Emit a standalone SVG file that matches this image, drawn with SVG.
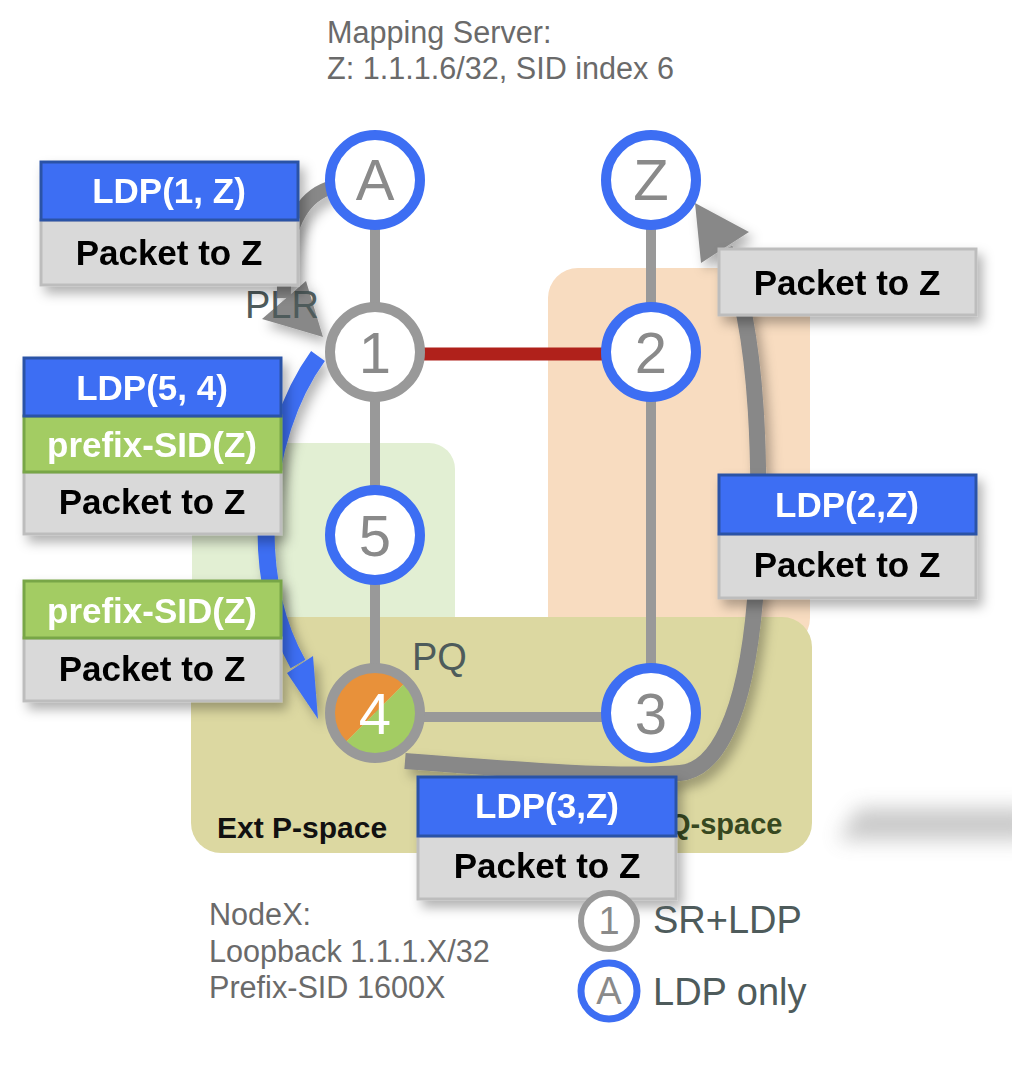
<svg xmlns="http://www.w3.org/2000/svg" width="1012" height="1078" viewBox="0 0 1012 1078">
<defs>
<style>
.lnk{stroke:#999;stroke-width:10;fill:none}
.ring-b{fill:#fff;stroke:#3d6ef3;stroke-width:10}
.ring-g{fill:#fff;stroke:#999;stroke-width:10}
.nl{font-family:"Liberation Sans",Arial,sans-serif;font-size:58px;fill:#8a8a8a;text-anchor:middle}
.hb{fill:#3d6ef3;stroke:#2c52a6;stroke-width:3}
.hg{fill:#a3cc63;stroke:#78a646;stroke-width:3}
.hy{fill:#d9d9d9;stroke:#bdbdbd;stroke-width:3}
.bw{font-family:"Liberation Sans",Arial,sans-serif;font-weight:bold;font-size:35px;fill:#fff;text-anchor:middle}
.bk{font-family:"Liberation Sans",Arial,sans-serif;font-weight:bold;font-size:35px;fill:#000;text-anchor:middle}
.note{font-family:"Liberation Sans",Arial,sans-serif;font-size:30.6px;fill:#6a6a6a}
.slate{font-family:"Liberation Sans",Arial,sans-serif;font-size:38px;fill:#4e5b5b}
</style>
<filter id="sh" x="-20%" y="-20%" width="150%" height="160%">
<feDropShadow dx="5" dy="7" stdDeviation="6" flood-color="#000" flood-opacity="0.3"/>
</filter>
<filter id="blur" x="-30%" y="-100%" width="160%" height="300%">
<feGaussianBlur stdDeviation="10"/>
</filter>
<clipPath id="c4"><circle cx="375" cy="713" r="41"/></clipPath>
</defs>

<g id="regions">
<rect x="548" y="268" width="262" height="380" rx="30" fill="#f8dcc0"/>
<rect x="192" y="443" width="263" height="200" rx="26" fill="#e2efd3"/>
<rect x="191" y="617" width="621" height="236" rx="30" fill="#dcd8a1"/>
<text x="217" y="838" font-family="Liberation Sans,Arial,sans-serif" font-weight="bold" font-size="30" fill="#111">Ext P-space</text>
<text x="668" y="834" font-family="Liberation Sans,Arial,sans-serif" font-weight="bold" font-size="29" fill="#374820">Q-space</text>
</g>

<polygon points="858,808 1030,808 1030,840 838,840" fill="#888" opacity="0.45" filter="url(#blur)"/>

<g id="connectors">
<line class="lnk" x1="375" y1="180" x2="375" y2="713"/>
<line class="lnk" x1="651" y1="180" x2="651" y2="713"/>
<line class="lnk" x1="375" y1="717" x2="651" y2="717"/>
<line x1="375" y1="354" x2="651" y2="354" stroke="#b0211b" stroke-width="13"/>
<g filter="url(#sh)">
<path d="M 333 187 Q 282 200 284 298" fill="none" stroke="#888" stroke-width="14"/>
<polygon points="262,319 306,281 323,337" fill="#888"/>
<path d="M 318 356 C 292 392, 268 450, 266 530 C 266 580, 276 625, 298 664" fill="none" stroke="#3d6ef3" stroke-width="17"/>
<polygon points="287,673 313,656 318,719" fill="#3d6ef3"/>
<path d="M 405 761 C 520 770, 620 778, 680 773 C 715 770, 745 720, 755 600 C 762 480, 760 330, 725 249" fill="none" stroke="#888" stroke-width="16"/>
<polygon points="701,263 749,232 695,203" fill="#888"/>
</g>
</g>

<text class="slate" x="245" y="318">PLR</text>
<text class="slate" x="412" y="670" font-size="37">PQ</text>

<g id="node-A"><circle class="ring-b" cx="375" cy="180" r="45"/><text class="nl" x="375" y="200">A</text></g>
<g id="node-Z"><circle class="ring-b" cx="651" cy="180" r="45"/><text class="nl" x="651" y="200">Z</text></g>
<g id="node-1"><circle class="ring-g" cx="375" cy="352" r="45"/><text class="nl" x="375" y="373">1</text></g>
<g id="node-2"><circle class="ring-b" cx="651" cy="352" r="45"/><text class="nl" x="651" y="373">2</text></g>
<g id="node-5"><circle class="ring-b" cx="375" cy="535" r="45"/><text class="nl" x="375" y="556">5</text></g>
<g id="node-3"><circle class="ring-b" cx="651" cy="713" r="45"/><text class="nl" x="651" y="734">3</text></g>
<g id="node-4">
<g clip-path="url(#c4)">
<polygon points="325,663 425,663 325,763" fill="#e8913a"/>
<polygon points="425,663 425,763 325,763" fill="#a3cc63"/>
</g>
<circle cx="375" cy="713" r="45" fill="none" stroke="#999" stroke-width="10"/>
<text class="nl" x="375" y="734" style="fill:#fff">4</text>
</g>

<g id="box-ldp1z" filter="url(#sh)">
<rect class="hy" x="41" y="220" width="257" height="65"/>
<rect class="hb" x="41" y="162" width="257" height="58"/>
<text class="bw" x="169" y="203">LDP(1, Z)</text>
<text class="bk" x="169" y="265">Packet to Z</text>
</g>

<g id="box-ldp54" filter="url(#sh)">
<rect class="hy" x="24" y="472" width="257" height="62"/>
<rect class="hg" x="24" y="416" width="257" height="56"/>
<rect class="hb" x="24" y="358" width="257" height="58"/>
<text class="bw" x="152" y="400">LDP(5, 4)</text>
<text class="bw" x="152" y="457">prefix-SID(Z)</text>
<text class="bk" x="152" y="514">Packet to Z</text>
</g>

<g id="box-sidz" filter="url(#sh)">
<rect class="hy" x="24" y="638" width="257" height="63"/>
<rect class="hg" x="24" y="581" width="257" height="57"/>
<text class="bw" x="152" y="623">prefix-SID(Z)</text>
<text class="bk" x="152" y="681">Packet to Z</text>
</g>

<g id="box-pktz" filter="url(#sh)">
<rect class="hy" x="719" y="249" width="257" height="66"/>
<text class="bk" x="847" y="295">Packet to Z</text>
</g>

<g id="box-ldp2z" filter="url(#sh)">
<rect class="hy" x="719" y="534" width="257" height="64"/>
<rect class="hb" x="719" y="475" width="257" height="59"/>
<text class="bw" x="847" y="517">LDP(2,Z)</text>
<text class="bk" x="847" y="577">Packet to Z</text>
</g>

<g id="box-ldp3z" filter="url(#sh)">
<rect class="hy" x="418" y="836" width="258" height="63"/>
<rect class="hb" x="418" y="777" width="258" height="59"/>
<text class="bw" x="547" y="818">LDP(3,Z)</text>
<text class="bk" x="547" y="878">Packet to Z</text>
</g>

<g id="mapping-note">
<text class="note" x="327" y="43">Mapping Server:</text>
<text class="note" x="327" y="79">Z: 1.1.1.6/32, SID index 6</text>
</g>
<g id="nodex-note">
<text class="note" x="209" y="925">NodeX:</text>
<text class="note" x="209" y="962">Loopback 1.1.1.X/32</text>
<text class="note" x="209" y="998">Prefix-SID 1600X</text>
</g>

<g id="legend">
<circle cx="609" cy="921" r="28" fill="#fff" stroke="#999" stroke-width="6"/>
<text x="609" y="934" font-family="Liberation Sans,Arial,sans-serif" font-size="38" fill="#8a8a8a" text-anchor="middle">1</text>
<text class="slate" x="653" y="933">SR+LDP</text>
<circle cx="609" cy="991" r="28" fill="#fff" stroke="#3d6ef3" stroke-width="7"/>
<text x="609" y="1004" font-family="Liberation Sans,Arial,sans-serif" font-size="38" fill="#8a8a8a" text-anchor="middle">A</text>
<text class="slate" x="653" y="1005">LDP only</text>
</g>
</svg>
